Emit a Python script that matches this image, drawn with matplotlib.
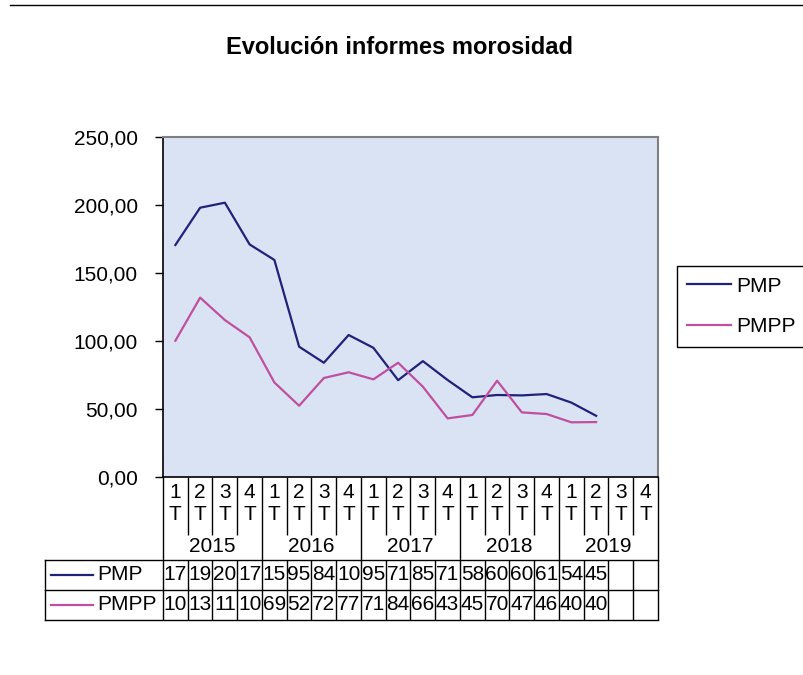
import matplotlib
matplotlib.use('agg')
import matplotlib.pyplot as plt
from matplotlib.transforms import blended_transform_factory

plt.rcParams['font.family'] = ['Liberation Sans', 'DejaVu Sans']

years = ['2015', '2016', '2017', '2018', '2019']
quarters = ['1\nT', '2\nT', '3\nT', '4\nT'] * len(years)
pmp = [170.6, 198.0, 201.7, 171.0, 159.6, 95.8, 84.0, 104.4, 95.0,
       71.2, 85.2, 71.3, 58.6, 60.3, 60.0, 61.0, 54.7, 45.0]
pmpp = [100.2, 131.9, 115.4, 102.7, 69.5, 52.4, 72.8, 77.0, 71.8,
        84.0, 66.4, 43.1, 45.6, 70.8, 47.5, 46.3, 40.2, 40.4]

c_pmp = '#1f2278'
c_pmpp = '#c04f9e'
W, H = 804, 675
fs = 15

fig = plt.figure(figsize=(W / 100, H / 100), dpi=100)
ax = fig.add_axes([163 / W, 1 - 477 / H, 495 / W, 340 / H])
ax.set_facecolor('#dae3f3')

n = len(quarters)
ax.plot(range(len(pmp)), pmp, color=c_pmp, lw=1.6, label='PMP')
ax.plot(range(len(pmpp)), pmpp, color=c_pmpp, lw=1.6, label='PMPP')
ax.set_xlim(-0.5, n - 0.5)
ax.set_ylim(0, 250)
ax.set_xticks([])
ax.set_yticks(range(0, 251, 50))
ax.set_yticklabels([f'{v},00' for v in range(0, 251, 50)], fontsize=fs)
ax.tick_params(axis='y', length=6, width=1, pad=12)
for s in ['top', 'right']:
    ax.spines[s].set_color('#808080')
    ax.spines[s].set_linewidth(1.5)
ax.spines['left'].set_linewidth(1.2)
ax.spines['bottom'].set_linewidth(1.2)

leg = ax.legend(loc='center left', bbox_to_anchor=(677 / W, 1 - 306.5 / H),
                bbox_transform=fig.transFigure, fontsize=fs, frameon=True,
                fancybox=False, edgecolor='black', framealpha=1,
                borderaxespad=0, borderpad=0.5, labelspacing=1.05,
                handlelength=2.1, handletextpad=0.25)
leg.get_frame().set_linewidth(1)

# overlay in pixel coords for the category area and data table
ov = fig.add_axes([0, 0, 1, 1])
ov.set_xlim(0, W)
ov.set_ylim(H, 0)
ov.axis('off')
tr = blended_transform_factory(ax.transData, ov.transData)

ov.plot([10, W], [5, 5], color='black', lw=1)

ov.text(W / 2 - 2, 47, 'Evolución informes morosidad', fontsize=17, fontweight='bold',
        ha='center', va='center')

lk = dict(color='black', lw=1, transform=tr, solid_capstyle='butt')
for i in range(n + 1):
    b = i - 0.5
    if i % 4 == 0:
        ov.plot([b, b], [477, 620], **lk)
    else:
        ov.plot([b, b], [477, 535], **lk)
        ov.plot([b, b], [560, 620], **lk)
for i, q in enumerate(quarters):
    a, t = q.split('\n')
    ov.text(i, 493, a, transform=tr, fontsize=fs, ha='center', va='center')
    ov.text(i, 515, t, transform=tr, fontsize=fs, ha='center', va='center')
for j, y in enumerate(years):
    ov.text(4 * j + 1.5, 546, y, transform=tr, fontsize=fs, ha='center', va='center')

for y in [560, 590, 620]:
    ov.plot([45, 658], [y, y], color='black', lw=1)
ov.plot([45, 45], [560, 620], color='black', lw=1)

rows = [('PMP', pmp, c_pmp, 575), ('PMPP', pmpp, c_pmpp, 605)]
for name, vals, col, y in rows:
    ov.plot([51, 93], [y, y], color=col, lw=1.6)
    ov.text(97, y, name, fontsize=fs, ha='left', va='center')
    for i, v in enumerate(vals):
        ov.text(i, y, f'{v:.2f}'[:2], transform=tr, fontsize=fs,
                ha='center', va='center')

fig.savefig('out.png', dpi=100)
